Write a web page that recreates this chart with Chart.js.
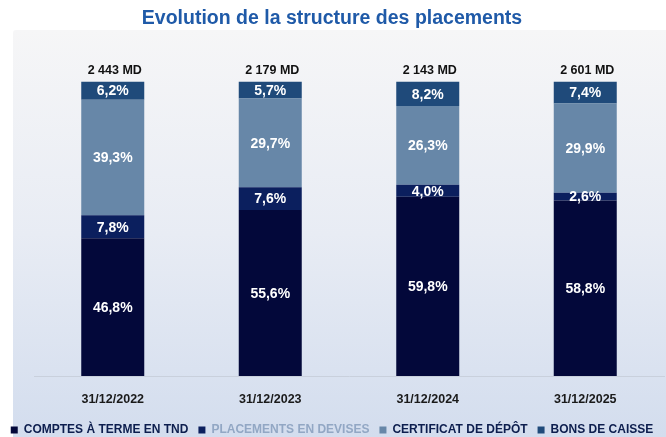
<!DOCTYPE html>
<html><head><meta charset="utf-8">
<script src="https://cdn.jsdelivr.net/npm/chart.js@4.4.1/dist/chart.umd.min.js"></script>
<style>html,body{margin:0;padding:0;background:#fff}#wrap{width:666px;height:437px;position:relative}</style>
</head><body><div id="wrap"><canvas id="c" width="666" height="437"></canvas></div>
<script>
const categories = ['31/12/2022','31/12/2023','31/12/2024','31/12/2025'];
const comptesTerme = [46.8, 55.6, 59.8, 58.8];
const placementsDevises = [7.8, 7.6, 4.0, 2.6];
const certificatDepot = [39.3, 29.7, 26.3, 29.9];
const bonsCaisse = [6.2, 5.7, 8.2, 7.4];
const totals = ['2 443 MD','2 179 MD','2 143 MD','2 601 MD'];
const seriesNames = ['COMPTES À TERME EN TND','PLACEMENTS EN DEVISES','CERTIFICAT DE DÉPÔT','BONS DE CAISSE'];

const raw = [comptesTerme, placementsDevises, certificatDepot, bonsCaisse];
const sums = categories.map((_, i) => raw.reduce((s, a) => s + a[i], 0));
const share = a => a.map((v, i) => v / sums[i] * 100);

const colors = ['#03083a', '#0b1f5e', '#6787a8', '#1f4a7a'];
const legendText = ['#0d1e4e', '#92a7c4', '#0d1e4e', '#0d1e4e'];
const FONT = '"Liberation Sans", Arial, sans-serif';

const bgPlugin = {
  id: 'bg',
  beforeDraw(chart) {
    const ctx = chart.ctx;
    ctx.save();
    const g = ctx.createLinearGradient(0, 30, 0, 437);
    g.addColorStop(0, '#f6f6f7');
    g.addColorStop(0.5, '#e8ecf4');
    g.addColorStop(1, '#d3ddee');
    ctx.fillStyle = g;
    ctx.beginPath();
    ctx.roundRect(13, 30, 666, 420, [3, 0, 0, 10]);
    ctx.fill();
    ctx.restore();
  }
};

const labelPlugin = {
  id: 'labels',
  afterDatasetsDraw(chart) {
    const ctx = chart.ctx;
    ctx.save();
    ctx.textAlign = 'center';
    ctx.textBaseline = 'middle';
    ctx.fillStyle = '#ffffff';
    ctx.font = 'bold 14px ' + FONT;
    chart.data.datasets.forEach((ds, di) => {
      const meta = chart.getDatasetMeta(di);
      meta.data.forEach((bar, i) => {
        const y = (bar.y + bar.base) / 2;
        ctx.fillText(raw[di][i].toFixed(1).replace('.', ',') + '%', bar.x, y + 1);
      });
    });
    ctx.fillStyle = '#111111';
    ctx.font = 'bold 12.5px ' + FONT;
    const top = chart.getDatasetMeta(3);
    top.data.forEach((bar, i) => {
      ctx.fillText(totals[i], bar.x + 2, bar.y - 11);
    });
    ctx.restore();
  }
};

new Chart(document.getElementById('c'), {
  type: 'bar',
  data: {
    labels: categories,
    datasets: raw.map((a, k) => ({
      label: seriesNames[k],
      data: share(a),
      backgroundColor: colors[k],
      barPercentage: 0.8,
      categoryPercentage: 0.5
    }))
  },
  options: {
    responsive: false,
    animation: false,
    devicePixelRatio: 1,
    layout: { padding: { left: 0, right: 2, top: 0, bottom: -9 } },
    scales: {
      x: {
        stacked: true,
        grid: { display: false, drawTicks: false, tickLength: 0 },
        border: { display: true, color: '#c9d0dc', width: 1 },
        ticks: { color: '#1a1a1a', font: { family: FONT, size: 12.5, weight: 'bold' }, padding: 16 },
        afterFit(scale) { scale.height = 38; }
      },
      y: {
        stacked: true, display: true, min: 0, max: 100,
        ticks: { display: false }, grid: { display: false }, border: { display: false },
        afterFit(scale) { scale.width = 34; }
      }
    },
    plugins: {
      title: {
        display: true,
        text: 'Evolution de la structure des placements',
        color: '#1f5aa8',
        font: { family: FONT, size: 19.5, weight: 'bold' },
        padding: { top: 7, bottom: 51 }
      },
      legend: {
        position: 'bottom',
        labels: {
          boxWidth: 7, boxHeight: 7, padding: 10,
          font: { family: FONT, size: 12, weight: 'bold' },
          generateLabels(chart) {
            return chart.data.datasets.map((ds, i) => ({
              text: ds.label, fillStyle: colors[i], strokeStyle: colors[i], lineWidth: 0,
              fontColor: legendText[i], datasetIndex: i, hidden: false
            }));
          }
        }
      },
      tooltip: { enabled: false }
    }
  },
  plugins: [bgPlugin, labelPlugin]
});
</script></body></html>
